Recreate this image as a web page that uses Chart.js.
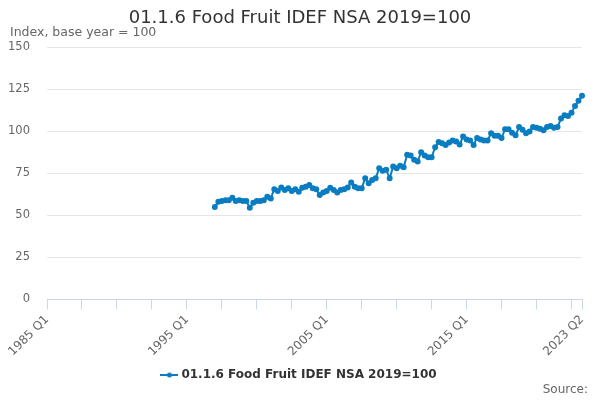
<!DOCTYPE html>
<html>
<head>
<meta charset="utf-8">
<script src="https://cdn.jsdelivr.net/npm/chart.js@4"></script>
<style>
  body { margin: 0; background: #fff; font-family: "DejaVu Sans", sans-serif; }
  #wrap { position: relative; width: 600px; height: 400px; }
  #title { position: absolute; top: 6px; left: 0; width: 600px; text-align: center; font-size: 18px; color: #333; }
  #ytitle { position: absolute; top: 24px; left: 10px; font-size: 12.5px; color: #666; }
  #source { position: absolute; top: 382px; right: 12px; font-size: 12px; color: #666; }
</style>
</head>
<body>
<div id="wrap">
  <canvas id="chart"></canvas>
  <div id="title">01.1.6 Food Fruit IDEF NSA 2019=100</div>
  <div id="ytitle">Index, base year = 100</div>
  <div id="source">Source:</div>
</div>
<script>
// quarters on the axis, 1985 Q1 .. 2023 Q2
const firstYear = 1985;
const lastYear = 2023;
const lastQuarter = 2;
const quarters = [];
for (let y = firstYear; y <= lastYear; y++) {
    for (let q = 1; q <= 4; q++) {
        if (y === lastYear && q > lastQuarter) break;
        quarters.push(y + ' Q' + q);
    }
}

const seriesName = '01.1.6 Food Fruit IDEF NSA 2019=100';
const seriesStart = '1997 Q1';
// 1997 Q1 .. 2023 Q2
const fruitIndex = [
    55, 58, 58.5, 59,
    59, 60.5, 58.5, 59,
    58.5, 58.5, 54.5, 57.5,
    58.5, 58.5, 59, 61,
    60, 65.5, 64.5, 66.5,
    65, 66, 64.5, 65.5,
    64, 66.3, 67, 68,
    66, 65.5, 62, 63.5,
    64.5, 66.3, 65, 63.5,
    65, 65.5, 66.5, 69.5,
    67, 66, 66, 72,
    69, 71, 72, 78,
    76.5, 77, 72, 79,
    78, 79.5, 78.5, 86,
    85.5, 83, 82, 87.5,
    85.5, 84.5, 84.5, 90.5,
    93.5, 92.8, 91.8, 93.2,
    94.4, 93.8, 92, 96.8,
    95, 94.4, 91.8, 96,
    95, 94.4, 94.4, 98.8,
    97.2, 97.2, 96, 101.2,
    101.2, 99, 97.5, 102.4,
    100.8, 98.8, 99.8, 102.4,
    102, 101.5, 100.5, 102.5,
    103, 102, 102.5, 107.5,
    109.5, 109, 111, 115,
    118, 121
];
const shownLabels = ['1985 Q1', '1995 Q1', '2005 Q1', '2015 Q1', '2023 Q2'];
const yTicks = [0, 25, 50, 75, 100, 125, 150];

const startIdx = quarters.indexOf(seriesStart);
const seriesData = quarters.map((q, i) => (i < startIdx ? null : fruitIndex[i - startIdx]));

const lineColor = '#0a7dc2';

// legend symbol: short line with a dot
const legendIcon = document.createElement('canvas');
legendIcon.width = 18;
legendIcon.height = 8;
const ic = legendIcon.getContext('2d');
ic.strokeStyle = lineColor;
ic.lineWidth = 2;
ic.beginPath();
ic.moveTo(0, 4);
ic.lineTo(18, 4);
ic.stroke();
ic.fillStyle = lineColor;
ic.beginPath();
ic.arc(9, 4, 2.5, 0, Math.PI * 2);
ic.fill();

function tickShown(i) {
    return i % 10 === 0 || i === quarters.length - 1;
}

const ctx = document.getElementById('chart').getContext('2d');
new Chart(ctx, {
    type: 'line',
    data: {
        labels: quarters,
        datasets: [{
            label: seriesName,
            data: seriesData,
            borderColor: lineColor,
            backgroundColor: lineColor,
            borderWidth: 2,
            pointRadius: 2,
            pointHoverRadius: 3,
            tension: 0
        }]
    },
    options: {
        responsive: true,
        maintainAspectRatio: false,
        animation: false,
        // equal side padding keeps the legend centred on the page
        layout: { padding: { left: 12, right: 12, top: 47, bottom: 9 } },
        plugins: {
            title: { display: false },
            tooltip: { enabled: false },
            legend: {
                position: 'bottom',
                labels: {
                    usePointStyle: true,
                    color: '#333',
                    font: { family: 'DejaVu Sans', size: 12, weight: 'bold' },
                    padding: 7,
                    generateLabels(chart) {
                        const items = Chart.defaults.plugins.legend.labels.generateLabels(chart);
                        items.forEach(it => { it.pointStyle = legendIcon; });
                        return items;
                    }
                }
            }
        },
        scales: {
            x: {
                afterFit(scale) {
                    // first label hangs into the left margin, plot ends 18px from the right
                    scale.paddingLeft = 0;
                    scale.paddingRight = 18;
                },
                ticks: {
                    autoSkip: false,
                    minRotation: 45,
                    maxRotation: 45,
                    color: '#666',
                    font: { family: 'DejaVu Sans', size: 12 },
                    callback(value) {
                        const lab = this.getLabelForValue(value);
                        return shownLabels.includes(lab) ? lab : '';
                    }
                },
                grid: {
                    drawOnChartArea: false,
                    tickLength: 10,
                    color: c => (tickShown(c.index) ? '#ccd6eb' : 'rgba(0,0,0,0)')
                },
                border: { color: '#ccd6eb' }
            },
            y: {
                min: 0,
                max: 150,
                afterBuildTicks(scale) {
                    scale.ticks = yTicks.map(v => ({ value: v }));
                },
                afterFit(scale) {
                    scale.width = 35;
                    scale.paddingTop = 0;
                    scale._computeLabelArea = () => undefined; // don't clip "150"
                },
                ticks: {
                    color: '#666',
                    padding: 17,
                    font: { family: 'DejaVu Sans', size: 11.5 }
                },
                grid: { color: '#e6e6e6', drawTicks: false },
                border: { display: false }
            }
        }
    }
});
</script>
</body>
</html>
